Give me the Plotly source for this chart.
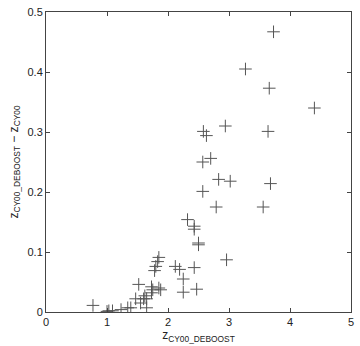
import plotly.graph_objects as go

z_deboost = [0.77, 1.00, 1.03, 1.09, 1.23, 1.34, 1.39, 1.47, 1.55, 1.60,
             1.65, 1.62, 1.65, 1.52, 1.73, 1.75, 1.73, 1.85, 1.88, 1.78,
             1.80, 1.83, 1.85, 2.12, 2.19, 2.43, 2.25, 2.25, 2.47, 2.32,
             2.43, 2.43, 2.50, 2.50, 2.96, 2.79, 3.56, 2.57, 2.83, 3.02,
             3.68, 2.57, 2.70, 2.58, 2.63, 2.94, 3.64, 4.40, 3.66, 3.27,
             3.73]
dz = [0.011, 0.001, 0.002, 0.002, 0.004, 0.007, 0.007, 0.022, 0.015, 0.022,
      0.022, 0.027, 0.007, 0.046, 0.042, 0.037, 0.032, 0.040, 0.037, 0.069,
      0.076, 0.084, 0.091, 0.076, 0.071, 0.074, 0.055, 0.033, 0.038, 0.154,
      0.143, 0.138, 0.115, 0.112, 0.087, 0.175, 0.175, 0.201, 0.221, 0.218,
      0.214, 0.250, 0.256, 0.301, 0.294, 0.310, 0.301, 0.340, 0.373, 0.405,
      0.467]

x_ticks = [0, 1, 2, 3, 4, 5]
y_ticks = [0, 0.1, 0.2, 0.3, 0.4, 0.5]
y_tick_labels = ["0", "0.1", "0.2", "0.3", "0.4", "0.5"]

FONT = "Liberation Sans, Arial, sans-serif"

fig = go.Figure()
fig.add_trace(go.Scatter(
    x=z_deboost, y=dz, mode="markers",
    marker=dict(symbol="cross-thin-open", size=9, color="#555555",
                line=dict(width=1, color="#555555")),
    showlegend=False,
))

axis_common = dict(
    showgrid=False, zeroline=False, showline=True, linecolor="#444444",
    linewidth=1, mirror="ticks", ticks="inside", ticklen=4,
    tickcolor="#444444", tickwidth=1,
    tickfont=dict(family=FONT, size=11, color="#222222"),
)

fig.update_layout(
    width=360, height=346,
    margin=dict(l=46, r=7, t=6, b=34),
    paper_bgcolor="white", plot_bgcolor="white",
    xaxis=dict(range=[0, 5], tickvals=x_ticks, ticktext=[str(t) for t in x_ticks],
               title=dict(text="z<sub>CY00_DEBOOST</sub>", standoff=0,
                          font=dict(family=FONT, size=12, color="#222222")),
               **axis_common),
    yaxis=dict(range=[0, 0.5], tickvals=y_ticks, ticktext=y_tick_labels,
               title=dict(text="z<sub>CY00_DEBOOST</sub> − z<sub>CY00</sub>", standoff=6,
                          font=dict(family=FONT, size=12, color="#222222")),
               **axis_common),
)

fig.write_html("out.html")
